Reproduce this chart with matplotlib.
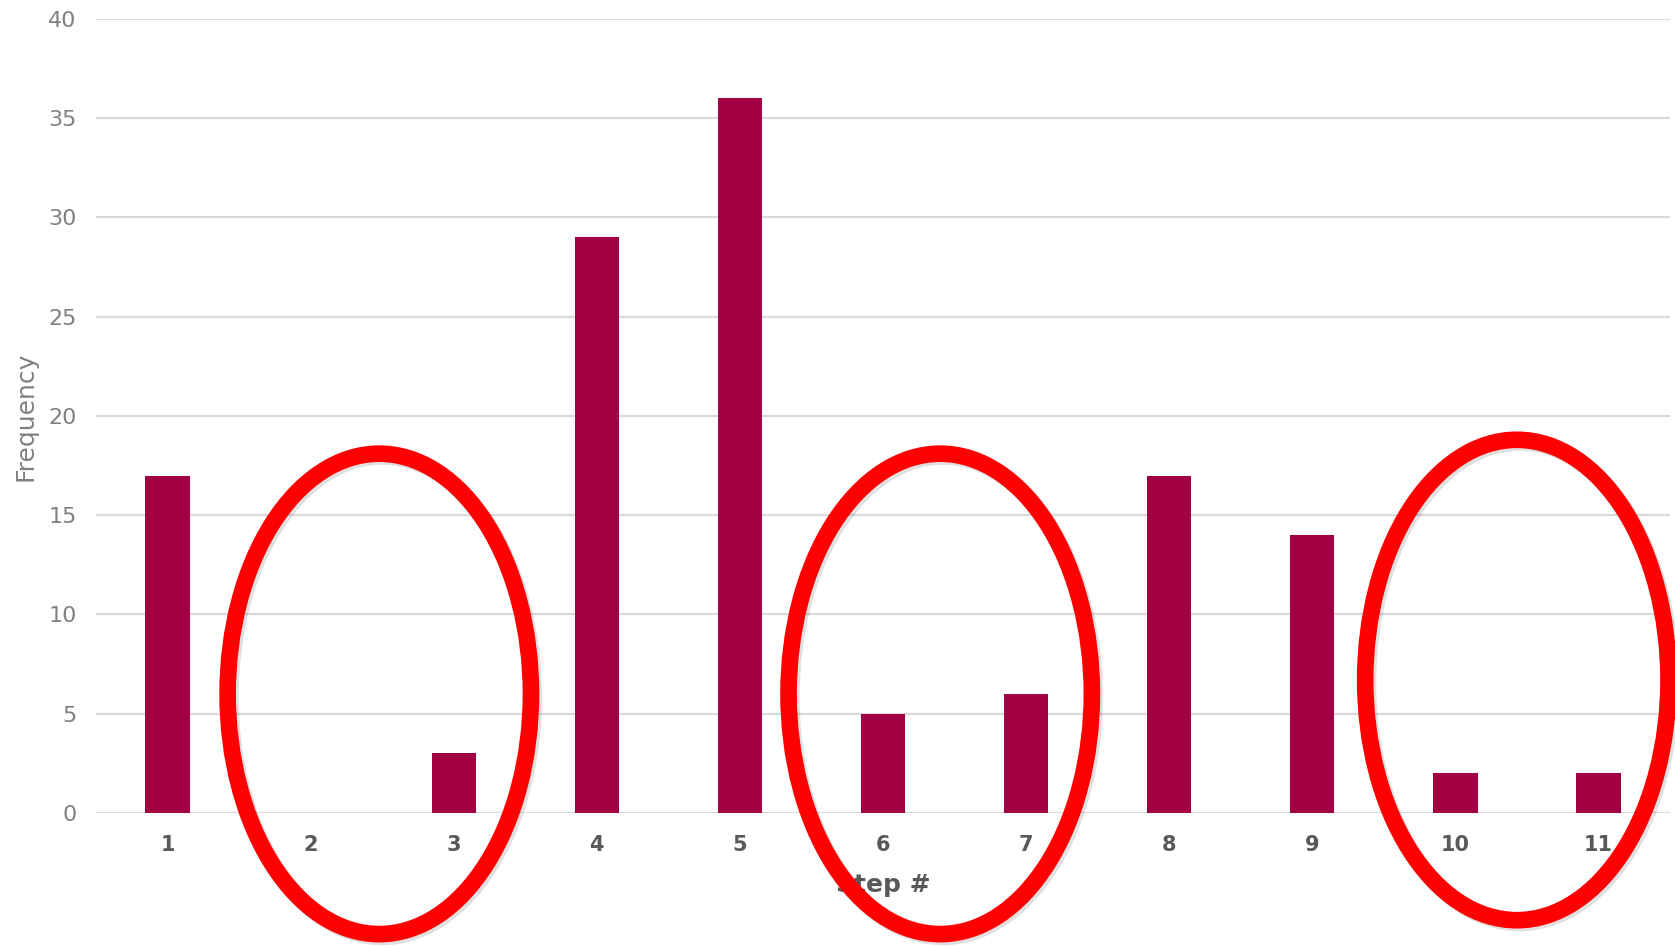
import numpy as np
import matplotlib
matplotlib.use("Agg")
import matplotlib.pyplot as plt
from matplotlib.patches import Ellipse
import matplotlib.patheffects as pe

''' data read off the chart '''
steps = ['1', '2', '3', '4', '5', '6', '7', '8', '9', '10', '11']
freq = [17, 0, 3, 29, 36, 5, 6, 17, 14, 2, 2]

# red rings drawn over the chart: (x centre, y centre) in data units
ring_x = [2.48, 6.4, 10.43]
ring_y = [6.0, 6.0, 6.7]

bar_col = '#A30044'
grid_col = '#D9D9D9'

plt.rcParams['font.family'] = ['DejaVu Sans']

fig = plt.figure(figsize=(16.75, 9.46), dpi=100)
ax = fig.add_axes([0.0573, 0.1406, 0.9397, 0.8394])

x = np.arange(1, len(steps) + 1)
ax.bar(x, freq, width=0.31, color=bar_col, zorder=3)

ax.set_xlim(0.5, len(steps) + 0.5)
ax.set_ylim(0, 40)
ax.set_yticks(range(0, 41, 5))
ax.set_xticks(x)
ax.set_xticklabels(steps)

ax.yaxis.grid(True, color=grid_col, linewidth=1.6, zorder=0)
ax.set_axisbelow(True)
for s in ax.spines.values():
    s.set_visible(False)

ax.tick_params(axis='y', length=0, pad=14, labelsize=16, labelcolor='#808080')
ax.tick_params(axis='x', length=0, pad=16, labelsize=15, labelcolor='#595959')
for t in ax.get_xticklabels():
    t.set_fontweight('bold')

ax.set_ylabel('Frequency', fontsize=18, color='#808080', labelpad=8)
ax.set_xlabel('Step #', fontsize=18, color='#595959', fontweight='bold', labelpad=13)

# red rings
for cx, cy in zip(ring_x, ring_y):
    e = Ellipse((cx, cy), width=2.12, height=24.2, fill=False,
                edgecolor='#FF0000', linewidth=12, zorder=10, clip_on=False)
    e.set_path_effects([pe.SimpleLineShadow(offset=(2, -2), alpha=0.12),
                        pe.Normal()])
    ax.add_patch(e)

fig.savefig('out.png', dpi=100)
